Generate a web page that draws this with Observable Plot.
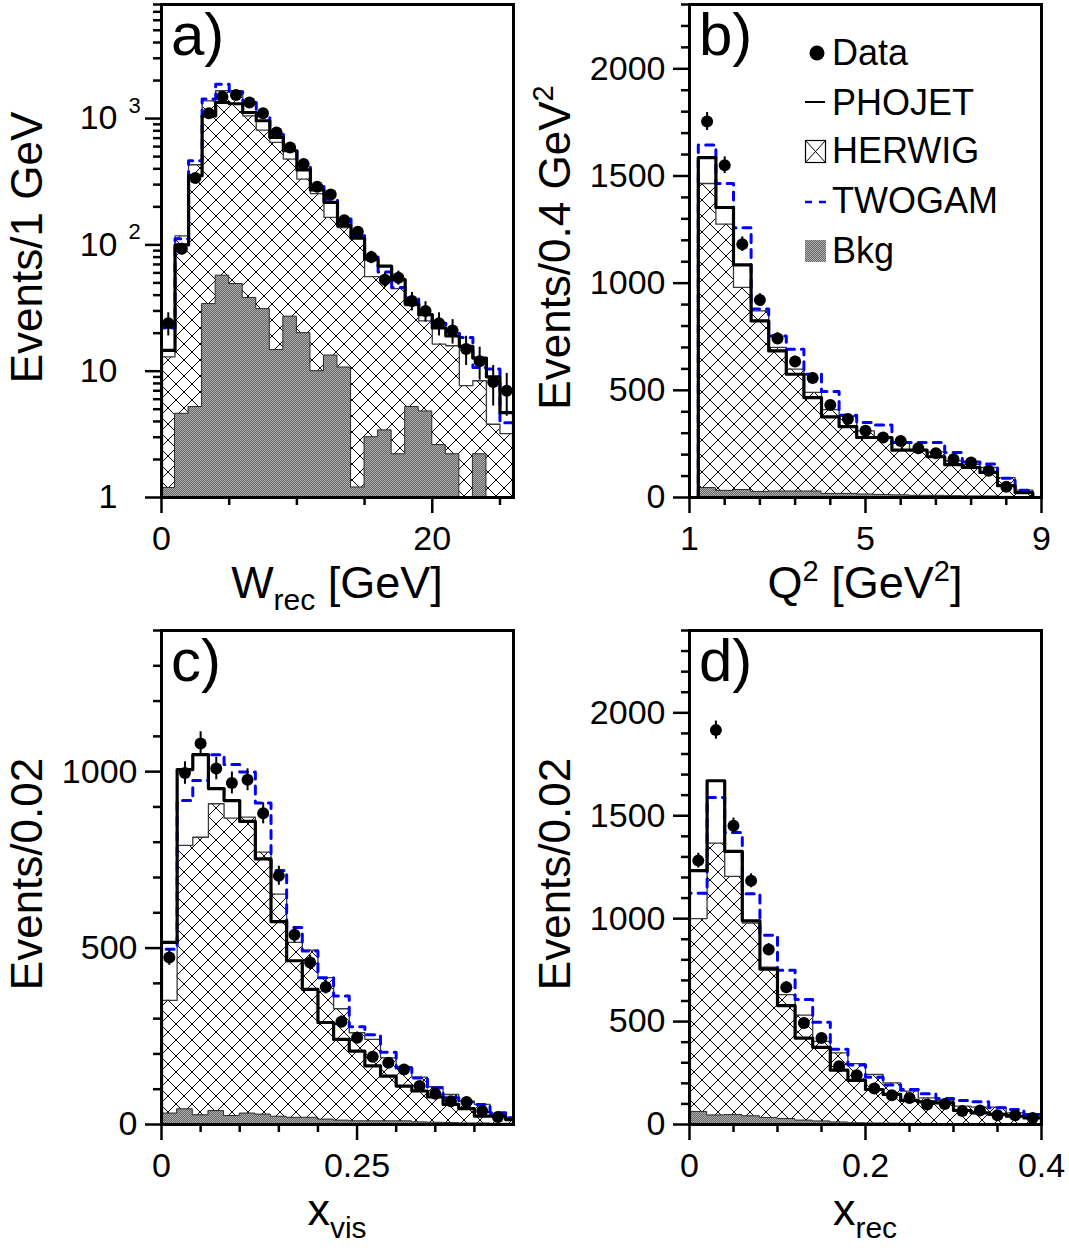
<!DOCTYPE html>
<html>
<head>
<meta charset="utf-8">
<script src="https://cdn.jsdelivr.net/npm/d3@7"></script>
<script src="https://cdn.jsdelivr.net/npm/@observablehq/plot@0.6"></script>
<style>
  body { margin: 0; background: #fff; }
  #root { position: relative; width: 1069px; height: 1248px; overflow: hidden; background: #fff; }
</style>
</head>
<body>
<svg width="0" height="0" style="position:absolute">
  <defs>
    <pattern id="hatch" patternUnits="userSpaceOnUse" width="16" height="16">
      <path d="M0,0L16,16M16,0L0,16" stroke="#000" stroke-width="1" fill="none"/>
    </pattern>
    <pattern id="bkg" patternUnits="userSpaceOnUse" width="2" height="2">
      <rect width="2" height="2" fill="#b0b0b0"/>
      <rect x="1" y="0" width="1" height="1" fill="#666"/>
      <rect x="0" y="1" width="1" height="1" fill="#666"/>
    </pattern>
  </defs>
</svg>
<div id="root"></div>
<script>
const FONT = '"Liberation Sans", Arial, Helvetica, sans-serif';

// ---------------- Panel a: W_rec (log scale) ----------------
const aEdges = [0,1,2,3,4,5,6,7,8,9,10,11,12,13,14,15,16,17,18,19,20,21,22,23,24,25,26];
const aData   = [24, 93, 338, 1100, 1490, 1535, 1340, 1100, 776, 590, 436, 288, 250, 157, 127, 80, 53, 55, 36, 30, 24, 21, 15, 12, 8.2, 7.0];
const aErr    = [5, 10, 18, 33, 39, 39, 37, 33, 28, 24, 21, 17, 16, 13, 11, 9, 7, 7, 6, 5.5, 5, 4.6, 3.9, 3.5, 2.9, 2.6];
const aPhojet = [14.6, 100, 353, 1052, 1340, 1310, 1117, 961, 709, 556, 392, 272, 217, 142, 113, 77, 68, 53, 34, 28, 22, 19, 15.7, 12.7, 9.0, 4.7];
const aHerwig = [13, 118, 431, 1380, 1660, 1660, 1052, 811, 647, 478, 332, 255, 165, 137, 115, 56, 56, 45, 33, 25, 16.4, 15.9, 7.7, 8.4, 3.8, 3.2];
const aTwogam = [22, 112, 464, 1430, 1867, 1625, 1340, 1052, 790, 600, 420, 290, 230, 160, 118, 80, 61, 46, 38, 29, 24, 21, 18.5, 10.7, 10.4, 3.9];
const aBkg    = [1.19, 4.6, 5.2, 34, 57, 49, 38, 31, 14.7, 27, 20, 10, 13.3, 10.7, 1.2, 3.0, 3.4, 2.2, 5.2, 4.8, 2.6, 2.2, 0, 2.2, 0, 0];
const aXMajor = [0, 20];
const aXMinor = [5, 10, 15, 25];
const aYMajor = [1, 10, 100, 1000];
const aYLabels = ["1", "10", "10", "10"];
const aYExp = [{value: 100, exp: "2"}, {value: 1000, exp: "3"}];

// ---------------- Panel b: Q^2 ----------------
const bEdges = [1.2,1.6,2.0,2.4,2.8,3.2,3.6,4.0,4.4,4.8,5.2,5.6,6.0,6.4,6.8,7.2,7.6,8.0,8.4,8.8];
const bData   = [1754, 1550, 1182, 921, 742, 634, 557, 431, 366, 311, 280, 264, 230, 207, 179, 163, 125, 50];
const bErr    = [42, 39, 34, 30, 27, 25, 24, 21, 19, 18, 17, 16, 15, 14, 13, 13, 11, 7];
const bPhojet = [1586, 1353, 1085, 824, 684, 575, 466, 376, 331, 280, 280, 221, 221, 190, 153, 140, 117, 55, 23];
const bHerwig = [1465, 1275, 980, 871, 700, 599, 490, 410, 380, 311, 280, 257, 221, 213, 171, 153, 140, 93, 34];
const bTwogam = [1645, 1465, 1259, 879, 754, 692, 575, 494, 384, 350, 338, 257, 257, 257, 210, 166, 156, 90, 34];
const bBkg    = [44, 31, 35, 26, 28, 28, 28, 17, 17, 14, 12, 10, 8, 8, 6, 5, 5, 3, 2];
const bXMajor = [1, 5, 9];
const bXMinor = [1.8, 2.6, 3.4, 4.2, 5.8, 6.6, 7.4, 8.2];
const bYMajor = [0, 500, 1000, 1500, 2000];

// ---------------- Panel c: x_vis ----------------
const cEdges = [0,0.02,0.04,0.06,0.08,0.10,0.12,0.14,0.16,0.18,0.20,0.22,0.24,0.26,0.28,0.30,0.32,0.34,0.36,0.38,0.40,0.42,0.44,0.46];
const cData   = [473, 996, 1080, 1009, 968, 977, 882, 705, 538, 459, 390, 291, 246, 192, 175, 156, 109, 87, 66, 64, 38, 21];
const cErr    = [22, 32, 33, 32, 31, 31, 30, 27, 23, 21, 20, 17, 16, 14, 13, 12, 10, 9, 8, 8, 6, 5];
const cPhojet = [516, 1006, 1048, 952, 918, 859, 753, 575, 464, 383, 289, 241, 208, 166, 137, 109, 95, 78, 57, 45, 24, 24, 14];
const cHerwig = [352, 791, 814, 909, 868, 871, 772, 653, 516, 494, 416, 328, 260, 241, 189, 164, 134, 107, 85, 66, 57, 28, 19];
const cTwogam = [497, 918, 975, 1048, 1020, 999, 911, 720, 558, 492, 416, 364, 277, 254, 205, 160, 132, 104, 76, 64, 57, 33, 19];
const cBkg    = [31, 43, 26, 38, 24, 31, 28, 22, 19, 19, 14, 11, 9, 9, 9, 9, 6, 5, 4, 3, 3, 2, 2];
const cXMajor = [0, 0.25];
const cXMinor = [0.05, 0.1, 0.15, 0.2, 0.3, 0.35, 0.4];
const cYMajor = [0, 500, 1000];

// ---------------- Panel d: x_rec ----------------
const dEdges = [0,0.02,0.04,0.06,0.08,0.10,0.12,0.14,0.16,0.18,0.20,0.22,0.24,0.26,0.28,0.30,0.32,0.34,0.36,0.38,0.40];
const dData   = [1282, 1916, 1451, 1184, 850, 667, 493, 420, 283, 239, 175, 142, 129, 97, 100, 65, 68, 45, 45, 32];
const dErr    = [36, 44, 38, 34, 29, 26, 22, 20, 17, 15, 13, 12, 11, 10, 10, 8, 8, 7, 7, 6];
const dPhojet = [1233, 1670, 1327, 990, 755, 578, 420, 375, 264, 214, 170, 146, 117, 110, 105, 68, 56, 49, 40, 32];
const dHerwig = [1000, 1367, 1205, 979, 764, 631, 531, 404, 348, 296, 243, 202, 162, 129, 117, 89, 84, 84, 56, 51];
const dTwogam = [1124, 1589, 1419, 1121, 919, 750, 607, 497, 366, 289, 230, 192, 170, 150, 126, 117, 110, 81, 73, 49];
const dBkg    = [61, 44, 46, 40, 32, 27, 19, 15, 10, 6, 5, 4, 3, 3, 2, 2, 2, 1, 1, 1];
const dXMajor = [0, 0.2, 0.4];
const dXMinor = [0.05, 0.1, 0.15, 0.25, 0.3, 0.35];
const dYMajor = [0, 500, 1000, 1500, 2000];

const root = document.getElementById("root");

function richText(sel, parts, size) {
  const t = sel.append("text").attr("font-size", size).attr("font-family", FONT).attr("fill", "#000");
  let cur = 0;
  for (const p of parts) {
    const target = p.shift || 0;
    t.append("tspan").attr("dy", target - cur).attr("font-size", p.size || size).text(p.t);
    cur = target;
  }
  return t;
}

function makePanel(cfg) {
  const {edges, data, err, phojet, herwig, twogam, bkg, base} = cfg;
  const step = (vals) => {
    const p = [{x: edges[0], y: base}];
    vals.forEach((v, i) => {
      const vv = Math.max(v, base);
      p.push({x: edges[i], y: vv}, {x: edges[i + 1], y: vv});
    });
    p.push({x: edges[vals.length], y: base});
    return p;
  };
  const pts = data.map((v, i) => ({x: (edges[i] + edges[i + 1]) / 2, y: v, e: err[i]}));
  const fmt = cfg.xFmt || (d => String(d));
  const marks = [
    Plot.area(step(herwig), {x1: "x", y1: base, y2: "y", fill: "url(#hatch)", clip: true}),
    Plot.area(step(bkg), {x1: "x", y1: base, y2: "y", fill: "url(#bkg)", stroke: "#2a2a2a", strokeWidth: 1, clip: true}),
    Plot.line(step(herwig), {x: "x", y: "y", stroke: "#3a3a3a", strokeWidth: 1.3, clip: true}),
    Plot.line(step(twogam), {x: "x", y: "y", stroke: "#0000ff", strokeWidth: 3, strokeDasharray: "8,7", clip: true}),
    Plot.line(step(phojet), {x: "x", y: "y", stroke: "#000", strokeWidth: 3.2, clip: true}),
    Plot.ruleX(pts, {x: "x", y1: d => d.y - d.e, y2: d => d.y + d.e, stroke: "#000", strokeWidth: 2}),
    Plot.dot(pts, {x: "x", y: "y", r: 6, fill: "#000", stroke: "none"}),
    Plot.frame({stroke: "#000", strokeWidth: 3}),
    Plot.axisX(cfg.xMinor, {tickSize: 8, tickFormat: () => "", strokeWidth: 2.5, label: null}),
    Plot.axisX(cfg.xMajor, {tickSize: 16, tickPadding: 12, tickFormat: fmt, strokeWidth: 2.5, label: null}),
    Plot.axisY(cfg.yMinor, {tickSize: 8, tickFormat: () => "", strokeWidth: 2.5, label: null}),
    Plot.axisY(cfg.yMajor, {tickSize: 16, tickPadding: cfg.yPad, tickFormat: cfg.yFmt || (d => String(d)), strokeWidth: 2.5, label: null}),
    ...(cfg.extra || [])
  ];
  const svgEl = Plot.plot({
    width: cfg.W, height: cfg.H,
    marginLeft: cfg.mL, marginRight: cfg.mR, marginTop: cfg.mT, marginBottom: cfg.mB,
    x: {domain: cfg.xDomain, label: null, axis: null},
    y: {domain: cfg.yDomain, type: cfg.yType || "linear", label: null, axis: null},
    style: {fontFamily: FONT, fontSize: "34px", background: "transparent", overflow: "visible", color: "#000"},
    marks
  });
  svgEl.style.position = "absolute";
  svgEl.style.left = cfg.left + "px";
  svgEl.style.top = cfg.top + "px";
  root.appendChild(svgEl);

  const svg = d3.select(svgEl);
  const fx0 = cfg.mL, fx1 = cfg.W - cfg.mR, fy0 = cfg.mT, fy1 = cfg.H - cfg.mB;
  richText(svg, cfg.yTitle, 44)
    .attr("text-anchor", "middle")
    .attr("transform", `translate(${fx0 - 119},${(fy0 + fy1) / 2 - 3}) rotate(-90)`);
  richText(svg, cfg.xTitle, 45)
    .attr("text-anchor", "middle")
    .attr("x", (fx0 + fx1) / 2)
    .attr("y", fy1 + 101);
  svg.append("text").attr("x", fx0 + 10).attr("y", fy0 + 51).attr("text-anchor", "start")
    .attr("font-size", 60).attr("font-family", FONT).attr("fill", "#000").text(cfg.letter);
  return svg;
}

function range100(max, majors) {
  return d3.range(0, max + 1, 100).filter(v => !majors.includes(v));
}

// Panel a
makePanel({
  left: 0, top: 0, W: 534, H: 624, mL: 161, mR: 21, mT: 4, mB: 127,
  edges: aEdges, data: aData, err: aErr, phojet: aPhojet, herwig: aHerwig, twogam: aTwogam, bkg: aBkg,
  base: 1, xDomain: [0, 26], yDomain: [1, 8000], yType: "log",
  xMajor: aXMajor, xMinor: aXMinor,
  yMajor: aYMajor, yFmt: (d) => aYLabels[aYMajor.indexOf(d)], yPad: 28,
  yMinor: [2,3,4,5,6,7,8,9,20,30,40,50,60,70,80,90,200,300,400,500,600,700,800,900,2000,3000,4000,5000,6000,7000,8000],
  extra: [Plot.text(aYExp, {y: "value", text: "exp", frameAnchor: "left", dx: -33, dy: -13, textAnchor: "start", fontSize: 22})],
  yTitle: [{t: "Events/1 GeV"}],
  xTitle: [{t: "W"}, {t: "rec", size: 30, shift: 12}, {t: " [GeV]", shift: 0}],
  letter: "a)"
});

// Panel b
const pb = makePanel({
  left: 534, top: 0, W: 535, H: 624, mL: 155, mR: 28, mT: 4, mB: 127,
  edges: bEdges, data: bData, err: bErr, phojet: bPhojet, herwig: bHerwig, twogam: bTwogam, bkg: bBkg,
  base: 0, xDomain: [1, 9], yDomain: [0, 2300],
  xMajor: bXMajor, xMinor: bXMinor,
  yMajor: bYMajor, yMinor: range100(2300, bYMajor), yPad: 8,
  yTitle: [{t: "Events/0.4 GeV"}, {t: "2", size: 29, shift: -17}],
  xTitle: [{t: "Q"}, {t: "2", size: 29, shift: -17}, {t: " [GeV", shift: 0}, {t: "2", size: 29, shift: -17}, {t: "]", shift: 0}],
  letter: "b)"
});

// Legend (panel b)
{
  const g = pb.append("g").attr("font-family", FONT).attr("font-size", 36).attr("fill", "#000").attr("text-anchor", "start");
  const tx = 298;
  g.append("circle").attr("cx", 283).attr("cy", 53).attr("r", 7.5).attr("fill", "#000");
  g.append("text").attr("x", tx).attr("y", 65).attr("text-anchor", "start").text("Data");
  g.append("line").attr("x1", 271).attr("x2", 291).attr("y1", 102).attr("y2", 102).attr("stroke", "#000").attr("stroke-width", 2);
  g.append("text").attr("x", tx).attr("y", 115).attr("text-anchor", "start").text("PHOJET");
  g.append("rect").attr("x", 271.5).attr("y", 140.5).attr("width", 20).attr("height", 22).attr("fill", "#fff").attr("stroke", "#000").attr("stroke-width", 1.2);
  g.append("path").attr("d", "M271.5,140.5L291.5,162.5M291.5,140.5L271.5,162.5").attr("stroke", "#000").attr("stroke-width", 1);
  g.append("text").attr("x", tx).attr("y", 163).attr("text-anchor", "start").text("HERWIG");
  g.append("line").attr("x1", 271).attr("x2", 292).attr("y1", 202).attr("y2", 202).attr("stroke", "#0000ff").attr("stroke-width", 2.5).attr("stroke-dasharray", "7,7");
  g.append("text").attr("x", tx).attr("y", 213).attr("text-anchor", "start").text("TWOGAM");
  g.append("rect").attr("x", 271).attr("y", 240).attr("width", 21).attr("height", 22).attr("fill", "url(#bkg)");
  g.append("text").attr("x", tx).attr("y", 263).attr("text-anchor", "start").text("Bkg");
}

// Panel c
makePanel({
  left: 0, top: 624, W: 534, H: 624, mL: 161, mR: 21, mT: 6, mB: 124,
  edges: cEdges, data: cData, err: cErr, phojet: cPhojet, herwig: cHerwig, twogam: cTwogam, bkg: cBkg,
  base: 0, xDomain: [0, 0.45], yDomain: [0, 1400],
  xMajor: cXMajor, xMinor: cXMinor,
  yMajor: cYMajor, yMinor: range100(1400, cYMajor), yPad: 8,
  yTitle: [{t: "Events/0.02"}],
  xTitle: [{t: "x"}, {t: "vis", size: 30, shift: 13}],
  letter: "c)"
});

// Panel d
makePanel({
  left: 534, top: 624, W: 535, H: 624, mL: 155, mR: 28, mT: 6, mB: 124,
  edges: dEdges, data: dData, err: dErr, phojet: dPhojet, herwig: dHerwig, twogam: dTwogam, bkg: dBkg,
  base: 0, xDomain: [0, 0.4], yDomain: [0, 2400],
  xMajor: dXMajor, xMinor: dXMinor,
  yMajor: dYMajor, yMinor: range100(2400, dYMajor), yPad: 8,
  yTitle: [{t: "Events/0.02"}],
  xTitle: [{t: "x"}, {t: "rec", size: 30, shift: 13}],
  letter: "d)"
});
</script>
</body>
</html>
